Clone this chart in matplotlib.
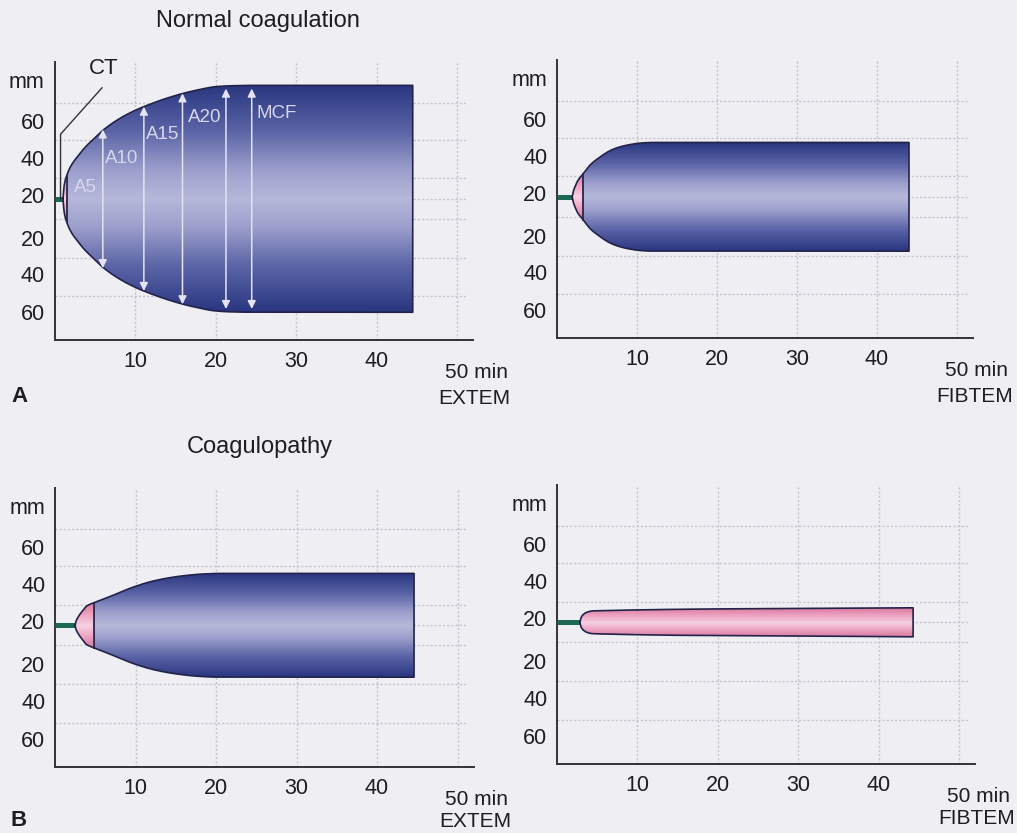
import numpy as np
import matplotlib
matplotlib.use("Agg")
import matplotlib.pyplot as plt
from matplotlib.patches import Polygon
from matplotlib.colors import LinearSegmentedColormap

plt.rcParams['font.family'] = ['Liberation Sans', 'DejaVu Sans']

# ---- dados (tempo em min, meia-amplitude em mm) ----
x_ticks = [10, 20, 30, 40]
y_labels = ['mm', '60', '40', '20', '20', '40', '60']

extem_norm_t = [1.05, 1.2, 1.5, 2, 3, 4, 5, 6, 8, 10, 12, 14, 16, 18, 20, 22, 25, 44.5]
extem_norm_a = [0, 7, 12, 17, 23, 28, 32, 36, 42, 46.5, 50, 53, 55.5, 57.5, 59, 59.5, 59.7, 59.7]
extem_norm_ct = 1.05
extem_norm_pink = 1.5

fibtem_norm_t = [1.9, 2.05, 2.25, 2.6, 3.25, 4.2, 5.4, 6.5, 7.5, 9, 10.5, 12, 44]
fibtem_norm_a = [0, 3, 5.3, 8.5, 12, 17, 21, 24, 25.8, 27.4, 28.3, 28.6, 28.6]
fibtem_norm_ct = 1.9
fibtem_norm_pink = 3.25

extem_coag_t = [2.5, 2.6, 2.8, 3.1, 3.5, 3.9, 4.8, 6.9, 9.7, 12, 13.9, 16, 18, 20.5, 44.6]
extem_coag_a = [0, 2, 3.8, 5.8, 8, 10, 11.8, 15.2, 20, 23, 24.7, 26, 26.8, 27.2, 27.2]
extem_coag_ct = 2.5
extem_coag_pink = 4.8

fibtem_coag_t = [2.85, 3.0, 3.3, 3.8, 4.5, 44.3]
fibtem_coag_a = [0, 2.5, 4.2, 5.4, 6.0, 7.6]
fibtem_coag_ct = 2.85
fibtem_coag_pink = 44.3

arrow_names = ['A5', 'A10', 'A15', 'A20', 'MCF']
arrow_t = [6, 11.1, 15.9, 21.3, 24.5]
arrow_a = [36.5, 48.5, 55.5, 58, 58]

BG = '#eeeef3'
TXT = '#1e1e1e'
blue_cmap = LinearSegmentedColormap.from_list(
    'blu', [(0, '#b6b8da'), (0.25, '#9c9fcc'), (0.6, '#5a64a6'), (1, '#2a3680')])
pink_cmap = LinearSegmentedColormap.from_list(
    'pnk', [(0, '#f7d0e1'), (0.5, '#eda2c2'), (1, '#d8799f')])


def pchip(x, y, xn):
    # interpolacao monotona (Fritsch-Carlson) so para suavizar o contorno
    x = np.asarray(x, float)
    y = np.asarray(y, float)
    h = np.diff(x)
    d = np.diff(y) / h
    m = np.zeros_like(y)
    for k in range(1, len(x) - 1):
        if d[k - 1] * d[k] > 0:
            w1 = 2 * h[k] + h[k - 1]
            w2 = h[k] + 2 * h[k - 1]
            m[k] = (w1 + w2) / (w1 / d[k - 1] + w2 / d[k])
    m[0] = d[0]
    m[-1] = d[-1] if d[-1] != 0 else 0
    i = np.clip(np.searchsorted(x, xn) - 1, 0, len(x) - 2)
    s = (xn - x[i]) / h[i]
    h00 = 2 * s**3 - 3 * s**2 + 1
    h10 = s**3 - 2 * s**2 + s
    h01 = -2 * s**3 + 3 * s**2
    h11 = s**3 - s**2
    return h00 * y[i] + h10 * h[i] * m[i] + h01 * y[i + 1] + h11 * h[i] * m[i + 1]


def fill_grad(ax, t, a, cmap):
    tt = np.concatenate([t, t[::-1]])
    yy = np.concatenate([a, -a[::-1]])
    poly = Polygon(np.column_stack([tt, yy]), closed=True, fc='none', ec='none')
    ax.add_patch(poly)
    hmax = a.max()
    ys = np.linspace(-hmax, hmax, 300)
    grad = (np.abs(ys) / hmax)[:, None] * np.ones((1, 2))
    im = ax.imshow(grad, extent=[t[0], t[-1], -hmax, hmax], origin='lower',
                   cmap=cmap, vmin=0, vmax=1, aspect='auto', zorder=2)
    im.set_clip_path(poly)


def trace(ax, t, a, ct, pink_end):
    t = np.asarray(t, float)
    a = np.asarray(a, float)
    tf = np.linspace(t[0], t[-1], 1500)
    af = np.clip(pchip(t, a, tf), 0, None)
    # linha verde ate o CT
    ax.plot([0, ct], [0, 0], color='#1c6a55', lw=3.6, solid_capstyle='butt', zorder=3)
    m_p = tf <= pink_end
    fill_grad(ax, tf[m_p], af[m_p], pink_cmap)
    if pink_end < t[-1]:
        m_b = tf >= pink_end
        fill_grad(ax, tf[m_b], af[m_b], blue_cmap)
        hp = np.interp(pink_end, tf, af)
        ax.plot([pink_end, pink_end], [-hp, hp], color='#2a2448', lw=1.3, zorder=4)
    ox = np.concatenate([tf, [tf[-1]], tf[::-1]])
    oy = np.concatenate([af, [-af[-1]], -af[::-1]])
    ax.plot(ox, oy, color='#23234a', lw=1.2, zorder=4)


def setup(ax, name, name_y=-105):
    ax.set_facecolor('none')
    for s in ['top', 'right']:
        ax.spines[s].set_visible(False)
    for s in ['left', 'bottom']:
        ax.spines[s].set_color('#333333')
        ax.spines[s].set_linewidth(1.4)
    ax.set_xticks(x_ticks)
    ax.set_xticklabels([str(v) for v in x_ticks])
    ax.set_yticks([62.5, 41, 21.5, 2, -20.5, -39.5, -59.5])
    ax.set_yticklabels(y_labels)
    ax.tick_params(length=0, labelsize=15.5, colors=TXT)
    ax.tick_params(axis='y', pad=7)
    ax.tick_params(axis='x', pad=8)
    for gx in [10, 20, 30, 40, 50]:
        ax.axvline(gx, color='#c4c4cc', lw=1, ls=(0, (1.5, 1.5)), zorder=1)
    for gy in [50.5, 31, 10.8, 0, -10.5, -31, -51.3]:
        ax.axhline(gy, xmax=0.985, color='#c4c4cc', lw=1, ls=(0, (1.5, 1.5)), zorder=1)
    ax.text(52.4, -91.5, '50 min', ha='center', va='center', fontsize=15, color=TXT, clip_on=False)
    ax.text(52.2, name_y, name, ha='center', va='center', fontsize=15, color=TXT, clip_on=False)


W, H = 1017, 833
fig = plt.figure(figsize=(W / 100, H / 100), dpi=100, facecolor=BG)


def add_ax(left, top, bottom, width):
    return fig.add_axes([left / W, 1 - bottom / H, width / W, (bottom - top) / H])


ax1 = add_ax(54.5, 62, 340, 418.6)
ax2 = add_ax(557, 60, 338, 416)
ax3 = add_ax(55, 488, 767, 418.6)
ax4 = add_ax(557, 485, 764, 418)

setup(ax1, 'EXTEM')
setup(ax2, 'FIBTEM')
setup(ax3, 'EXTEM', -103)
setup(ax4, 'FIBTEM', -103)

trace(ax1, extem_norm_t, extem_norm_a, extem_norm_ct, extem_norm_pink)
trace(ax2, fibtem_norm_t, fibtem_norm_a, fibtem_norm_ct, fibtem_norm_pink)
trace(ax3, extem_coag_t, extem_coag_a, extem_coag_ct, extem_coag_pink)
trace(ax4, fibtem_coag_t, fibtem_coag_a, fibtem_coag_ct, fibtem_coag_pink)

for ax in [ax1, ax2, ax3, ax4]:
    ax.set_xlim(0, 52)
    ax.set_ylim(-74.3, 72)

# setas A5..MCF
lbl_pos = [(3.8, 5.8), (8.3, 21), (13.4, 34), (18.6, 42.6), (27.6, 45)]
for nm, t, a, (lx, ly) in zip(arrow_names, arrow_t, arrow_a, lbl_pos):
    ax1.annotate('', xy=(t, a), xytext=(t, -a),
                 arrowprops=dict(arrowstyle='<|-|>', color='#e4e4f4', lw=1.1,
                                 mutation_scale=12, shrinkA=0, shrinkB=0), zorder=5)
    ax1.text(lx, ly, nm, ha='center', va='center', fontsize=13.5, color='#d6d7ee', zorder=6)

# CT
ax1.plot([0.75, 0.75, 5.9], [0, 34, 58.4], color='#333333', lw=1, zorder=5, clip_on=False)
ax1.text(6.15, 68.4, 'CT', ha='center', va='center', fontsize=16, color=TXT, clip_on=False)

fig.text(258 / W, 1 - 21 / H, 'Normal coagulation', ha='center', va='center', fontsize=17, color=TXT)
fig.text(260 / W, 1 - 447 / H, 'Coagulopathy', ha='center', va='center', fontsize=17, color=TXT)
fig.text(19 / W, 1 - 397 / H, 'A', ha='center', va='center', fontsize=16, fontweight='bold', color=TXT)
fig.text(19 / W, 1 - 820 / H, 'B', ha='center', va='center', fontsize=16, fontweight='bold', color=TXT)

fig.savefig('out.png', dpi=100, facecolor=BG)
